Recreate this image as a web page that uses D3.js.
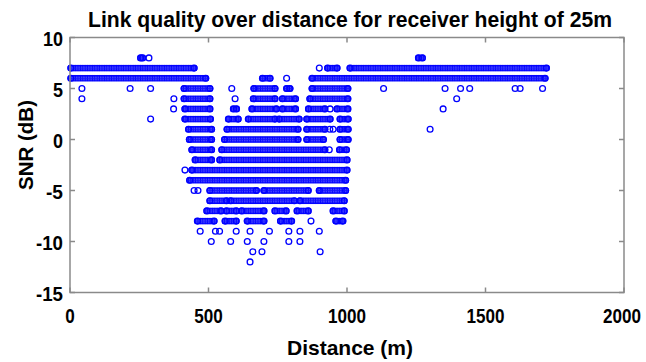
<!DOCTYPE html>
<html><head><meta charset="utf-8">
<script src="https://cdn.jsdelivr.net/npm/d3@7"></script>
<style>html,body{margin:0;padding:0;background:#fff;} svg{display:block;}</style>
</head><body>
<svg id="chart" width="646" height="362"></svg>
<script>
const xTicks = [0, 500, 1000, 1500, 2000];
const yTicks = [-15, -10, -5, 0, 5, 10];
const titleText = "Link quality over distance for receiver height of 25m";
const xLabel = "Distance (m)";
const yLabel = "SNR (dB)";

// Stretches where samples sit shoulder to shoulder: [SNR dB, from m, to m]
const denseRuns = [
  [8, 255, 262], [8, 1258, 1272],
  [7, 3, 448], [7, 930, 964], [7, 1011, 1720],
  [6, 3, 490], [6, 695, 722], [6, 874, 1715],
  [5, 412, 505], [5, 664, 740], [5, 782, 794], [5, 874, 1003],
  [4, 412, 505], [4, 662, 740], [4, 767, 814], [4, 866, 1003],
  [3, 415, 505], [3, 590, 601], [3, 657, 745], [3, 767, 814], [3, 861, 920], [3, 964, 1003],
  [2, 415, 507], [2, 572, 607], [2, 644, 740], [2, 755, 827], [2, 855, 939], [2, 975, 1004],
  [1, 428, 511], [1, 567, 823], [1, 855, 920], [1, 975, 1004],
  [0, 431, 511], [0, 558, 823], [0, 855, 915], [0, 975, 1004],
  [-1, 440, 511], [-1, 548, 920], [-1, 973, 998],
  [-2, 452, 511], [-2, 541, 1000],
  [-3, 440, 1000],
  [-4, 432, 995],
  [-5, 505, 673], [-5, 700, 860], [-5, 900, 995],
  [-6, 505, 565], [-6, 580, 810], [-6, 830, 990],
  [-7, 494, 545], [-7, 565, 600], [-7, 620, 700], [-7, 740, 780], [-7, 820, 860], [-7, 950, 990],
  [-8, 460, 520], [-8, 560, 600], [-8, 640, 700], [-8, 760, 800], [-8, 960, 985]
];

// Samples that stand apart: [SNR dB, distance m]
const singles = [
  [8, 285], [7, 900], [6, 782],
  [5, 43], [5, 217], [5, 291], [5, 584], [5, 1132], [5, 1354], [5, 1410], [5, 1443],
  [5, 1607], [5, 1625], [5, 1706],
  [4, 43], [4, 375], [4, 596], [4, 1396],
  [3, 374], [3, 939], [3, 1347],
  [2, 291], [1, 938], [1, 950], [1, 1300],
  [-1, 936], [-3, 415], [-5, 448], [-5, 462],
  [-8, 870],
  [-9, 470], [-9, 525], [-9, 540], [-9, 600], [-9, 650], [-9, 720], [-9, 790], [-9, 830], [-9, 900],
  [-10, 510], [-10, 580], [-10, 640], [-10, 700], [-10, 790], [-10, 830],
  [-11, 660], [-11, 693], [-11, 903],
  [-12, 650]
];

(function draw() {
  const svg = d3.select("#chart");
  const pl = 70, pr = 624, pt = 37.5, pb = 292.5;
  const x = d3.scaleLinear().domain([0, 2000]).range([pl, pr]);
  const y = d3.scaleLinear().domain([-15, 10]).range([pb, pt]);

  const blue = "#0000ff";
  const axisColor = "#8a8a8a";
  const font = "'Liberation Sans Narrow', 'Liberation Sans', Arial, sans-serif";
  const r = 2.9, sw = 1.3;

  // Crowded markers: a row of overlapping open circles, one row per 1 dB step
  const rowStep = y(0) - y(1);
  const pitch = 2.4;
  const pat = svg.append("defs").append("pattern")
    .attr("id", "markerRow")
    .attr("patternUnits", "userSpaceOnUse")
    .attr("x", 0).attr("y", y(10) - rowStep / 2)
    .attr("width", pitch).attr("height", rowStep);
  [-2, -1, 0, 1, 2].forEach(k => {
    pat.append("circle")
      .attr("cx", pitch / 2 + k * pitch).attr("cy", rowStep / 2).attr("r", r)
      .attr("fill", "none").attr("stroke", blue).attr("stroke-width", sw);
  });

  const plot = svg.append("g");
  plot.selectAll("rect.run").data(denseRuns).join("rect")
    .attr("class", "run")
    .attr("x", d => x(d[1]) - r - sw / 2)
    .attr("y", d => y(d[0]) - r - sw / 2)
    .attr("width", d => x(d[2]) - x(d[1]) + 2 * r + sw)
    .attr("height", 2 * r + sw)
    .attr("rx", r + sw / 2)
    .attr("fill", "url(#markerRow)");

  // first and last sample of every crowded stretch
  const runEnds = denseRuns.flatMap(d => [[d[0], d[1]], [d[0], d[2]]]);
  plot.selectAll("circle.end").data(runEnds).join("circle")
    .attr("class", "end")
    .attr("cx", d => x(d[1])).attr("cy", d => y(d[0])).attr("r", r)
    .attr("fill", "none").attr("stroke", blue).attr("stroke-width", sw);

  plot.selectAll("circle.one").data(singles).join("circle")
    .attr("class", "one")
    .attr("cx", d => x(d[1])).attr("cy", d => y(d[0])).attr("r", r)
    .attr("fill", "none").attr("stroke", blue).attr("stroke-width", sw);

  // box with inward ticks
  const tickLen = 5;
  const ax = svg.append("g").attr("stroke", axisColor).attr("stroke-width", 1.5).attr("fill", "none");
  ax.append("rect").attr("x", pl).attr("y", pt).attr("width", pr - pl).attr("height", pb - pt);
  xTicks.forEach(t => {
    ax.append("line").attr("x1", x(t)).attr("x2", x(t)).attr("y1", pb).attr("y2", pb - tickLen);
    ax.append("line").attr("x1", x(t)).attr("x2", x(t)).attr("y1", pt).attr("y2", pt + tickLen);
  });
  yTicks.forEach(t => {
    ax.append("line").attr("y1", y(t)).attr("y2", y(t)).attr("x1", pl).attr("x2", pl + tickLen);
    ax.append("line").attr("y1", y(t)).attr("y2", y(t)).attr("x1", pr).attr("x2", pr - tickLen);
  });

  // tick labels
  const labelWidth = (s, w) => String(s).replace("-", "").length * w + (String(s).startsWith("-") ? 7 : 0);
  const lastX = xTicks[xTicks.length - 1];
  svg.append("g").selectAll("text").data(xTicks).join("text")
    .attr("x", d => d === lastX ? x(d) + 17 : x(d)).attr("y", 323)
    .attr("text-anchor", d => d === lastX ? "end" : "middle")
    .attr("font-family", font).attr("font-weight", "bold").attr("font-size", 20.5)
    .attr("textLength", d => labelWidth(d, 9.5)).attr("lengthAdjust", "spacingAndGlyphs")
    .text(d => d);
  svg.append("g").selectAll("text").data(yTicks).join("text")
    .attr("x", 63).attr("y", d => y(d) + 8)
    .attr("text-anchor", "end")
    .attr("font-family", font).attr("font-weight", "bold").attr("font-size", 21)
    .attr("textLength", d => labelWidth(d, 10)).attr("lengthAdjust", "spacingAndGlyphs")
    .text(d => d);

  // titles
  svg.append("text").attr("x", 350).attr("y", 27).attr("text-anchor", "middle")
    .attr("font-family", font).attr("font-weight", "bold").attr("font-size", 22)
    .attr("textLength", 524).attr("lengthAdjust", "spacingAndGlyphs")
    .text(titleText);
  svg.append("text").attr("x", 350).attr("y", 355).attr("text-anchor", "middle")
    .attr("font-family", font).attr("font-weight", "bold").attr("font-size", 21)
    .attr("textLength", 126).attr("lengthAdjust", "spacingAndGlyphs")
    .text(xLabel);
  svg.append("text").attr("transform", "translate(33,145) rotate(-90)").attr("text-anchor", "middle")
    .attr("font-family", font).attr("font-weight", "bold").attr("font-size", 21)
    .attr("textLength", 90).attr("lengthAdjust", "spacingAndGlyphs")
    .text(yLabel);
})();
</script>
</body></html>
